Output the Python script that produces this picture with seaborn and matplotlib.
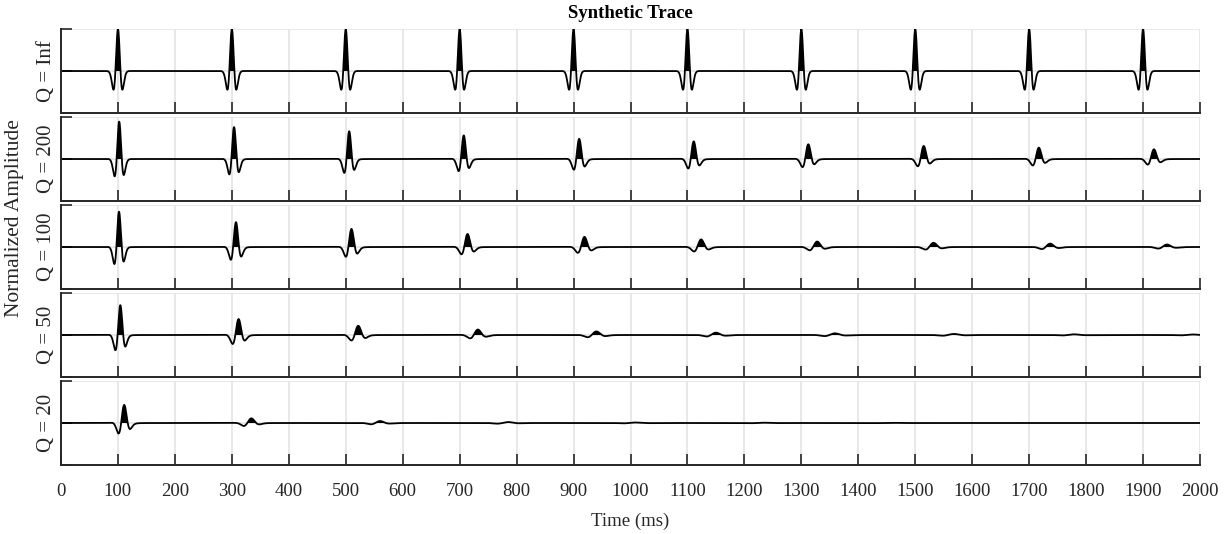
import numpy as np
import matplotlib
matplotlib.use("Agg")
import matplotlib.pyplot as plt
import seaborn as sns

# Values: per trace, the peak time (ms) and peak
# amplitude of each reflection, plus the apparent dominant frequency (Hz)
# and phase rotation (deg) of each wavelet.
q_labels = ["Q = Inf", "Q = 200", "Q = 100", "Q = 50", "Q = 20"]

peak_t_inf = [100, 300, 500, 700, 900, 1100, 1300, 1500, 1700, 1900]
peak_a_inf = [1.0, 1.0, 1.0, 1.0, 1.0, 1.0, 1.0, 1.0, 1.0, 1.0]
freq_inf = [50, 50, 50, 50, 50, 50, 50, 50, 50, 50]
phase_inf = [0, 0, 0, 0, 0, 0, 0, 0, 0, 0]

peak_t_200 = [102, 304, 506, 707, 910, 1111, 1312, 1515, 1717, 1919]
peak_a_200 = [0.89, 0.76, 0.66, 0.56, 0.48, 0.42, 0.35, 0.31, 0.27, 0.23]
freq_200 = [49, 47, 45, 43, 41, 40, 38, 37, 36, 35]
phase_200 = [4, 8, 12, 15, 18, 20, 22, 24, 26, 28]

peak_t_100 = [102, 307, 510, 714, 919, 1124, 1328, 1532, 1737, 1942]
peak_a_100 = [0.84, 0.59, 0.43, 0.31, 0.24, 0.18, 0.13, 0.10, 0.08, 0.06]
freq_100 = [48, 43, 39, 36, 33, 31, 29, 27, 26, 25]
phase_100 = [8, 15, 20, 24, 27, 30, 32, 34, 35, 36]

peak_t_50 = [104, 312, 522, 732, 940, 1150, 1359, 1568, 1779, 1988]
peak_a_50 = [0.71, 0.38, 0.22, 0.13, 0.085, 0.056, 0.04, 0.025, 0.016, 0.012]
freq_50 = [45, 37, 32, 28, 25, 23, 21, 19, 18, 17]
phase_50 = [14, 24, 30, 34, 36, 38, 40, 41, 42, 43]

peak_t_20 = [111, 334, 560, 785, 1008, 1235, 1460, 1685, 1910]
peak_a_20 = [0.43, 0.11, 0.047, 0.023, 0.012, 0.007, 0.004, 0.002, 0.001]
freq_20 = [39, 29, 24, 20, 18, 16, 14, 13, 12]
phase_20 = [28, 38, 42, 44, 45, 46, 47, 48, 48]

traces_in = [
    (peak_t_inf, peak_a_inf, freq_inf, phase_inf),
    (peak_t_200, peak_a_200, freq_200, phase_200),
    (peak_t_100, peak_a_100, freq_100, phase_100),
    (peak_t_50, peak_a_50, freq_50, phase_50),
    (peak_t_20, peak_a_20, freq_20, phase_20),
]

dt = 0.5
t = np.arange(0, 2000 + dt, dt)
tau = np.arange(-250, 250 + dt, dt)


def wavelet(f, phase_deg):
    # ricker, phase rotated with a hilbert transform
    x = (np.pi * f * tau / 1000.0) ** 2
    r = (1 - 2 * x) * np.exp(-x)
    n = len(r)
    h = np.zeros(n)
    h[0] = 1
    h[1:(n + 1) // 2] = 2
    if n % 2 == 0:
        h[n // 2] = 1
    rh = np.fft.ifft(np.fft.fft(r) * h).imag
    ph = np.deg2rad(phase_deg)
    w = np.cos(ph) * r + np.sin(ph) * rh
    k = np.argmax(w)
    return w / w[k], tau[k]


def build(peaks, amps, freqs, phases):
    y = np.zeros_like(t)
    for t0, a, f, p in zip(peaks, amps, freqs, phases):
        w, off = wavelet(f, p)
        y += a * np.interp(t - t0 + off, tau, w, left=0, right=0)
    return y


traces = [build(*tr) for tr in traces_in]

sns.set_theme(style="white")
plt.rcParams["font.family"] = ["Liberation Serif", "DejaVu Serif"]
ink = "#262626"

W, H = 1232, 534
fig = plt.figure(figsize=(W / 100, H / 100), dpi=100)
tops = [29, 117, 205, 293, 381]

for i, (lab, y) in enumerate(zip(q_labels, traces)):
    ax = fig.add_axes([61 / W, 1 - (tops[i] + 84) / H, 1139 / W, 84 / H])
    ax.fill_between(t, 0, y, where=y > 0, color="black", lw=0, interpolate=True)
    sns.lineplot(x=t, y=y, ax=ax, color="black", lw=1.3, estimator=None)
    ax.set_xlim(0, 2000)
    ax.set_ylim(-1, 1)
    ax.set_xticks(np.arange(0, 2001, 100))
    ax.set_yticks([-1, 0, 1])
    ax.set_yticklabels([])
    ax.grid(True, color="#e2e2e2", lw=1.1)
    ax.set_axisbelow(True)
    for s in ["top", "right"]:
        ax.spines[s].set_visible(False)
    for s in ["left", "bottom"]:
        ax.spines[s].set_color(ink)
        ax.spines[s].set_linewidth(1.4)
    ax.tick_params(bottom=True, left=True, direction="in", length=8, width=1.2,
                   color=ink, labelsize=13.5, labelcolor=ink)
    ax.tick_params(axis="x", pad=13)
    ax.set_ylabel(lab, fontsize=15, color=ink, labelpad=0)
    if i < 4:
        ax.set_xticklabels([])
    else:
        ax.set_xlabel("Time (ms)", fontsize=13.5, color=ink, labelpad=9)

fig.text(630 / W, 1 - 14 / H, "Synthetic Trace", ha="center", va="center",
         fontsize=13.5, fontweight="bold", color="black")
fig.text(15 / W, 1 - 218 / H, "Normalized Amplitude", rotation=90,
         ha="center", va="center", fontsize=15.5, color=ink)

fig.savefig("out.png", dpi=100)
